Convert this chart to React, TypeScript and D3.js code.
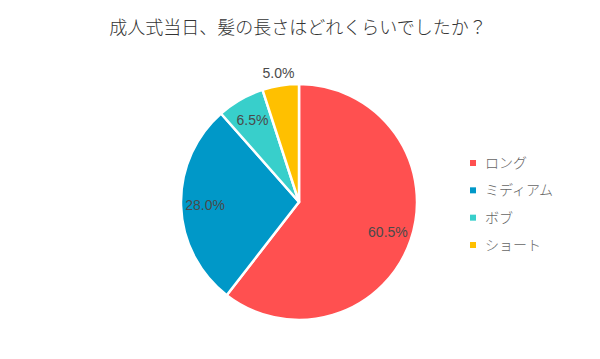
import * as d3 from "d3";

const TITLE = "成人式当日、髪の長さはどれくらいでしたか？";
const categories = ["ロング", "ミディアム", "ボブ", "ショート"];
const values = [60.5, 28.0, 6.5, 5.0];
const colors = ["#ff5050", "#0098c8", "#38cfcb", "#ffc000"];

const WIDTH = 600;
const HEIGHT = 359;
const CX = 299;
const CY = 202;
const RADIUS = 118;

export default function App() {
  const pie = d3
    .pie<number>()
    .sort(null)
    .value((d) => d);
  const slices = pie(values);
  const arc = d3.arc<d3.PieArcDatum<number>>().innerRadius(0).outerRadius(RADIUS);
  // small slices get their label outside the pie
  const labelArc = d3.arc<d3.PieArcDatum<number>>().innerRadius(94).outerRadius(94);
  const outerLabelArc = d3.arc<d3.PieArcDatum<number>>().innerRadius(131).outerRadius(131);

  const legendY = d3
    .scalePoint<string>()
    .domain(categories)
    .range([163, 245]);

  return (
    <svg
      width={WIDTH}
      height={HEIGHT}
      style={{ position: "absolute", left: 0, top: 0, background: "#fff" }}
      fontFamily="'Noto Sans CJK JP', 'Noto Sans', sans-serif"
    >
      <text x={298} y={34} textAnchor="middle" fontSize={18} fontWeight={300} fill="#333">
        {TITLE}
      </text>
      <g transform={`translate(${CX}, ${CY})`}>
        {slices.map((s, i) => (
          <path key={i} d={arc(s) || ""} fill={colors[i]} stroke="#fff" strokeWidth={2.5} strokeLinejoin="round" />
        ))}
        {slices.map((s, i) => {
          const [x, y] = (s.data < 6 ? outerLabelArc : labelArc).centroid(s);
          return (
            <text
              key={i}
              x={x}
              y={y}
              dy="0.35em"
              textAnchor="middle"
              fontSize={14}
              fill="#4a4a4a"
              fontFamily="'Liberation Sans', Arial, sans-serif"
            >
              {s.data.toFixed(1)}%
            </text>
          );
        })}
      </g>
      <g>
        {categories.map((c, i) => (
          <g key={c} transform={`translate(473, ${legendY(c)})`}>
            <rect x={-3} y={-3} width={6} height={6} fill={colors[i]} />
            <text x={12} y={0} dy="0.35em" fontSize={14} fontWeight={300} fill="#666">
              {c}
            </text>
          </g>
        ))}
      </g>
    </svg>
  );
}
